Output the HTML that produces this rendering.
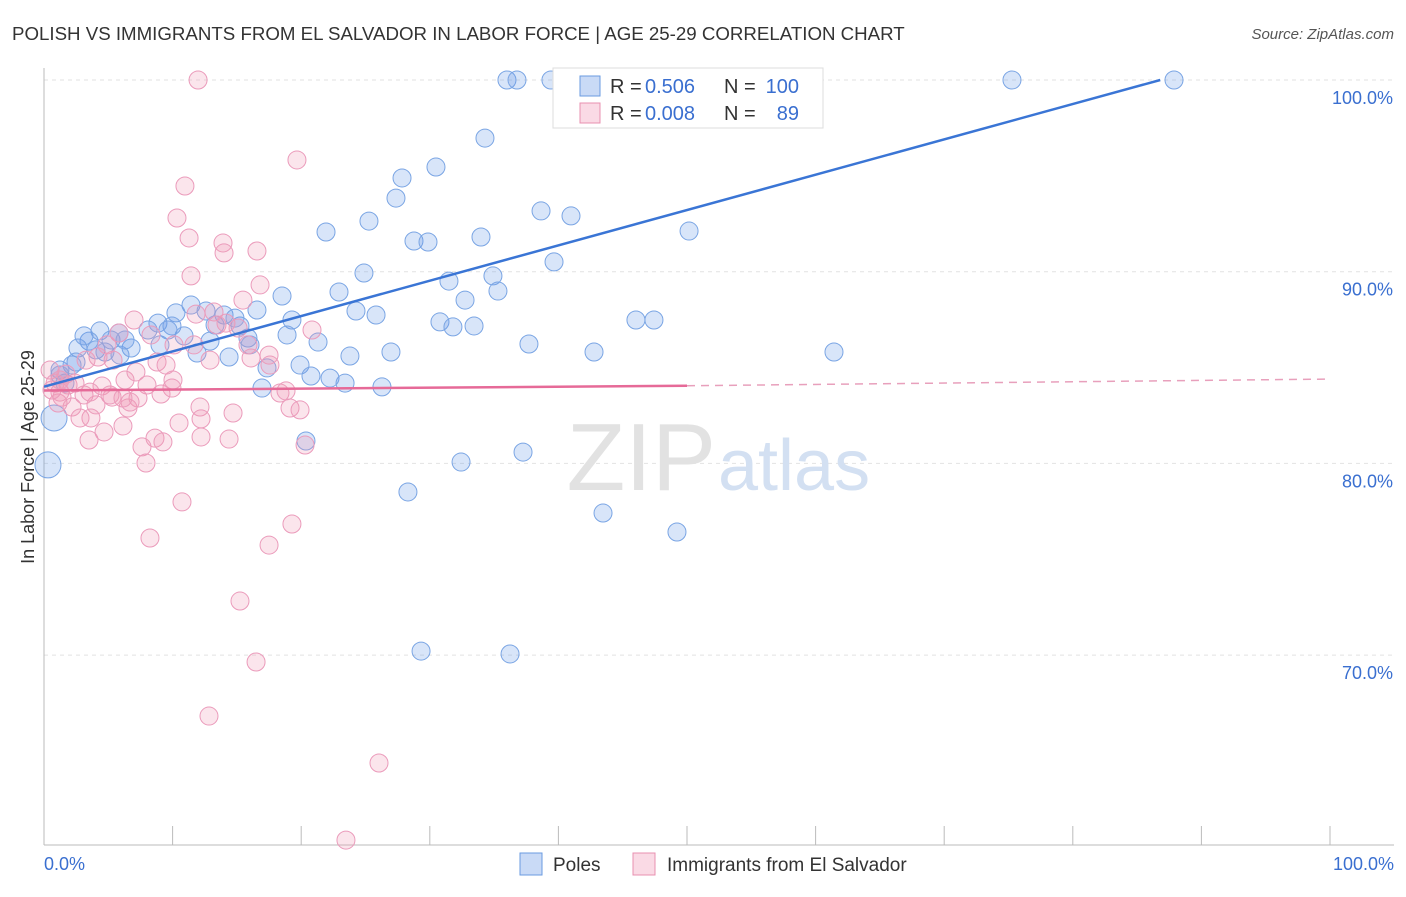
<!DOCTYPE html>
<html><head><meta charset="utf-8"><style>
body{margin:0;background:#fff;font-family:"Liberation Sans",sans-serif}
svg text{font-family:"Liberation Sans",sans-serif}
</style></head><body>
<svg id="c" width="1406" height="892">
<text x="12" y="40" font-size="18.7" fill="#333">POLISH VS IMMIGRANTS FROM EL SALVADOR IN LABOR FORCE | AGE 25-29 CORRELATION CHART</text>
<text x="1394" y="39" font-size="15" fill="#555" font-style="italic" text-anchor="end">Source: ZipAtlas.com</text>
<g id="grid"></g>
<text x="716" y="490" font-size="96" fill="#e2e2e2" text-anchor="end" font-family="Liberation Serif">ZIP</text>
<text x="718" y="490" font-size="72" fill="#d3e0f2">atlas</text>
<g id="pts"></g>
<g id="lines"></g>
<text transform="translate(34,457) rotate(-90)" font-size="18" fill="#333" text-anchor="middle">In Labor Force | Age 25-29</text>
<text x="44" y="870" font-size="18" fill="#3a6fd0">0.0%</text>
<text x="1394" y="870" font-size="18" fill="#3a6fd0" text-anchor="end">100.0%</text>
<g>
<rect x="553" y="68" width="270" height="60" fill="#fff" stroke="#ddd"/>
<rect x="580" y="76" width="20" height="20" fill="rgba(100,150,230,0.35)" stroke="#6a9be0"/>
<rect x="580" y="103" width="20" height="20" fill="rgba(240,150,180,0.35)" stroke="#e890b0"/>
<text x="610" y="93" font-size="20" fill="#333">R = </text><text x="645" y="93" font-size="20" fill="#3a6fd0">0.506</text>
<text x="724" y="93" font-size="20" fill="#333">N =</text><text x="799" y="93" font-size="20" fill="#3a6fd0" text-anchor="end">100</text>
<text x="610" y="120" font-size="20" fill="#333">R = </text><text x="645" y="120" font-size="20" fill="#3a6fd0">0.008</text>
<text x="724" y="120" font-size="20" fill="#333">N =</text><text x="799" y="120" font-size="20" fill="#3a6fd0" text-anchor="end">89</text>
</g>
<g>
<rect x="520" y="853" width="22" height="22" fill="rgba(100,150,230,0.35)" stroke="#6a9be0"/>
<text x="553" y="871" font-size="19" fill="#333">Poles</text>
<rect x="633" y="853" width="22" height="22" fill="rgba(240,150,180,0.35)" stroke="#e890b0"/>
<text x="667" y="871" font-size="19" fill="#333">Immigrants from El Salvador</text>
</g>
</svg>
<script>
const yTicks=[100,90,80,70];
const yTickLabels=["100.0%","90.0%","80.0%","70.0%"];
const xTicks=[0,10,20,30,40,50,60,70,80,90,100];
const bluePx=[[507,80],[517,80],[551,80],[580,80],[605,80],[640,80],[660,80],[700,80],[708,80],[760,80],[1012,80],[1174,80],[485,138],[436,167],[402,178],[396,198],[541,211],[571,216],[369,221],[326,232],[414,241],[428,242],[481,237],[689,231],[554,262],[364,273],[449,281],[493,276],[498,291],[339,292],[282,296],[465,300],[356,311],[376,315],[257,310],[191,305],[176,313],[206,311],[224,315],[292,320],[440,322],[453,327],[474,326],[636,320],[654,320],[100,331],[158,323],[172,326],[148,330],[119,333],[240,326],[287,335],[184,336],[210,341],[248,338],[318,342],[89,341],[111,340],[78,348],[96,350],[131,348],[529,344],[391,352],[350,356],[594,352],[834,352],[197,353],[229,357],[76,362],[267,368],[300,365],[311,376],[330,378],[345,383],[382,387],[262,388],[60,370],[72,365],[65,383],[306,441],[461,462],[523,452],[408,492],[603,513],[677,532],[421,651],[510,654],[54,418],[48,465],[60,375],[120,355],[125,340],[160,345],[168,330],[215,325],[235,318],[250,345],[105,352],[84,336]];
const pinkPx=[[198,80],[297,160],[185,186],[177,218],[189,238],[223,243],[224,253],[257,251],[191,276],[260,285],[243,300],[214,312],[196,314],[217,325],[134,320],[226,323],[312,330],[119,333],[151,335],[174,345],[238,328],[248,345],[269,355],[251,358],[157,362],[113,360],[98,357],[50,370],[66,374],[125,380],[173,380],[102,386],[147,385],[172,388],[55,383],[60,392],[84,395],[112,397],[138,398],[161,394],[280,393],[286,391],[58,403],[72,407],[96,405],[128,408],[200,407],[290,408],[300,410],[233,413],[179,423],[123,426],[201,419],[91,418],[80,418],[104,432],[62,397],[89,440],[155,438],[163,442],[201,437],[229,439],[142,447],[305,445],[146,463],[182,502],[292,524],[150,538],[269,545],[240,601],[256,662],[209,716],[379,763],[346,840],[68,385],[75,383],[52,390],[110,395],[60,380],[90,392],[130,402],[86,360],[166,365],[270,365],[210,360],[123,398],[136,372],[194,345],[107,345]];
const blueX=bluePx.map(p=>+((p[0]-44)/12.86).toFixed(2));
const blueY=bluePx.map(p=>+(100-(p[1]-80)/19.17).toFixed(2));
const pinkX=pinkPx.map(p=>+((p[0]-44)/12.86).toFixed(2));
const pinkY=pinkPx.map(p=>+(100-(p[1]-80)/19.17).toFixed(2));
const blueTrend=[[0,84.0],[86.8,100]];
const pinkTrend=[[0,83.8],[50,84.05],[100,84.4]];
const X=v=>44+v*12.86, Y=v=>80+(100-v)*19.17;
const NS="http://www.w3.org/2000/svg";
function mk(t,a,p){const e=document.createElementNS(NS,t);for(const k in a)e.setAttribute(k,a[k]);p.appendChild(e);return e;}
const g=document.getElementById('grid');
yTicks.forEach((t,i)=>{const l=mk('line',{x1:44,x2:1394,y1:Y(t),y2:Y(t),stroke:'#e2e2e2','stroke-dasharray':'4,4'},g);

const tx=mk('text',{x:1393,y:Y(t)+24,'font-size':18,fill:'#3a6fd0','text-anchor':'end'},g);tx.textContent=yTickLabels[i];
});
const ax=mk('line',{x1:44,x2:44,y1:68,y2:845,stroke:'#bbb'},g);
const bx=mk('line',{x1:44,x2:1394,y1:845,y2:845,stroke:'#bbb'},g);
xTicks.forEach(t=>{const l=mk('line',{x1:X(t),x2:X(t),y1:826,y2:845,stroke:'#bbb'},g);});
const pg=document.getElementById('pts');
blueX.forEach((x,i)=>{const r=(x<2&&blueY[i]<83)?13:9;const c=mk('circle',{cx:X(x),cy:Y(blueY[i]),r:r,fill:'rgba(100,150,230,0.25)',stroke:'#7aa5e4','stroke-width':1},pg);
});
pinkX.forEach((x,i)=>{const c=mk('circle',{cx:X(x),cy:Y(pinkY[i]),r:9,fill:'rgba(240,150,180,0.25)',stroke:'#eb9bbb','stroke-width':1},pg);
});
const lg=document.getElementById('lines');
const bl=mk('line',{x1:X(blueTrend[0][0]),y1:Y(blueTrend[0][1]),x2:X(blueTrend[1][0]),y2:Y(blueTrend[1][1]),stroke:'#3a75d5','stroke-width':2.5},lg);

const pl=mk('line',{x1:X(pinkTrend[0][0]),y1:Y(pinkTrend[0][1]),x2:X(pinkTrend[1][0]),y2:Y(pinkTrend[1][1]),stroke:'#e66a98','stroke-width':2.5},lg);

const pd=mk('line',{x1:X(pinkTrend[1][0]),y1:Y(pinkTrend[1][1]),x2:X(pinkTrend[2][0]),y2:Y(pinkTrend[2][1]),stroke:'#e8a0bc','stroke-width':1.5,'stroke-dasharray':'8,6'},lg);

</script>
</body></html>
